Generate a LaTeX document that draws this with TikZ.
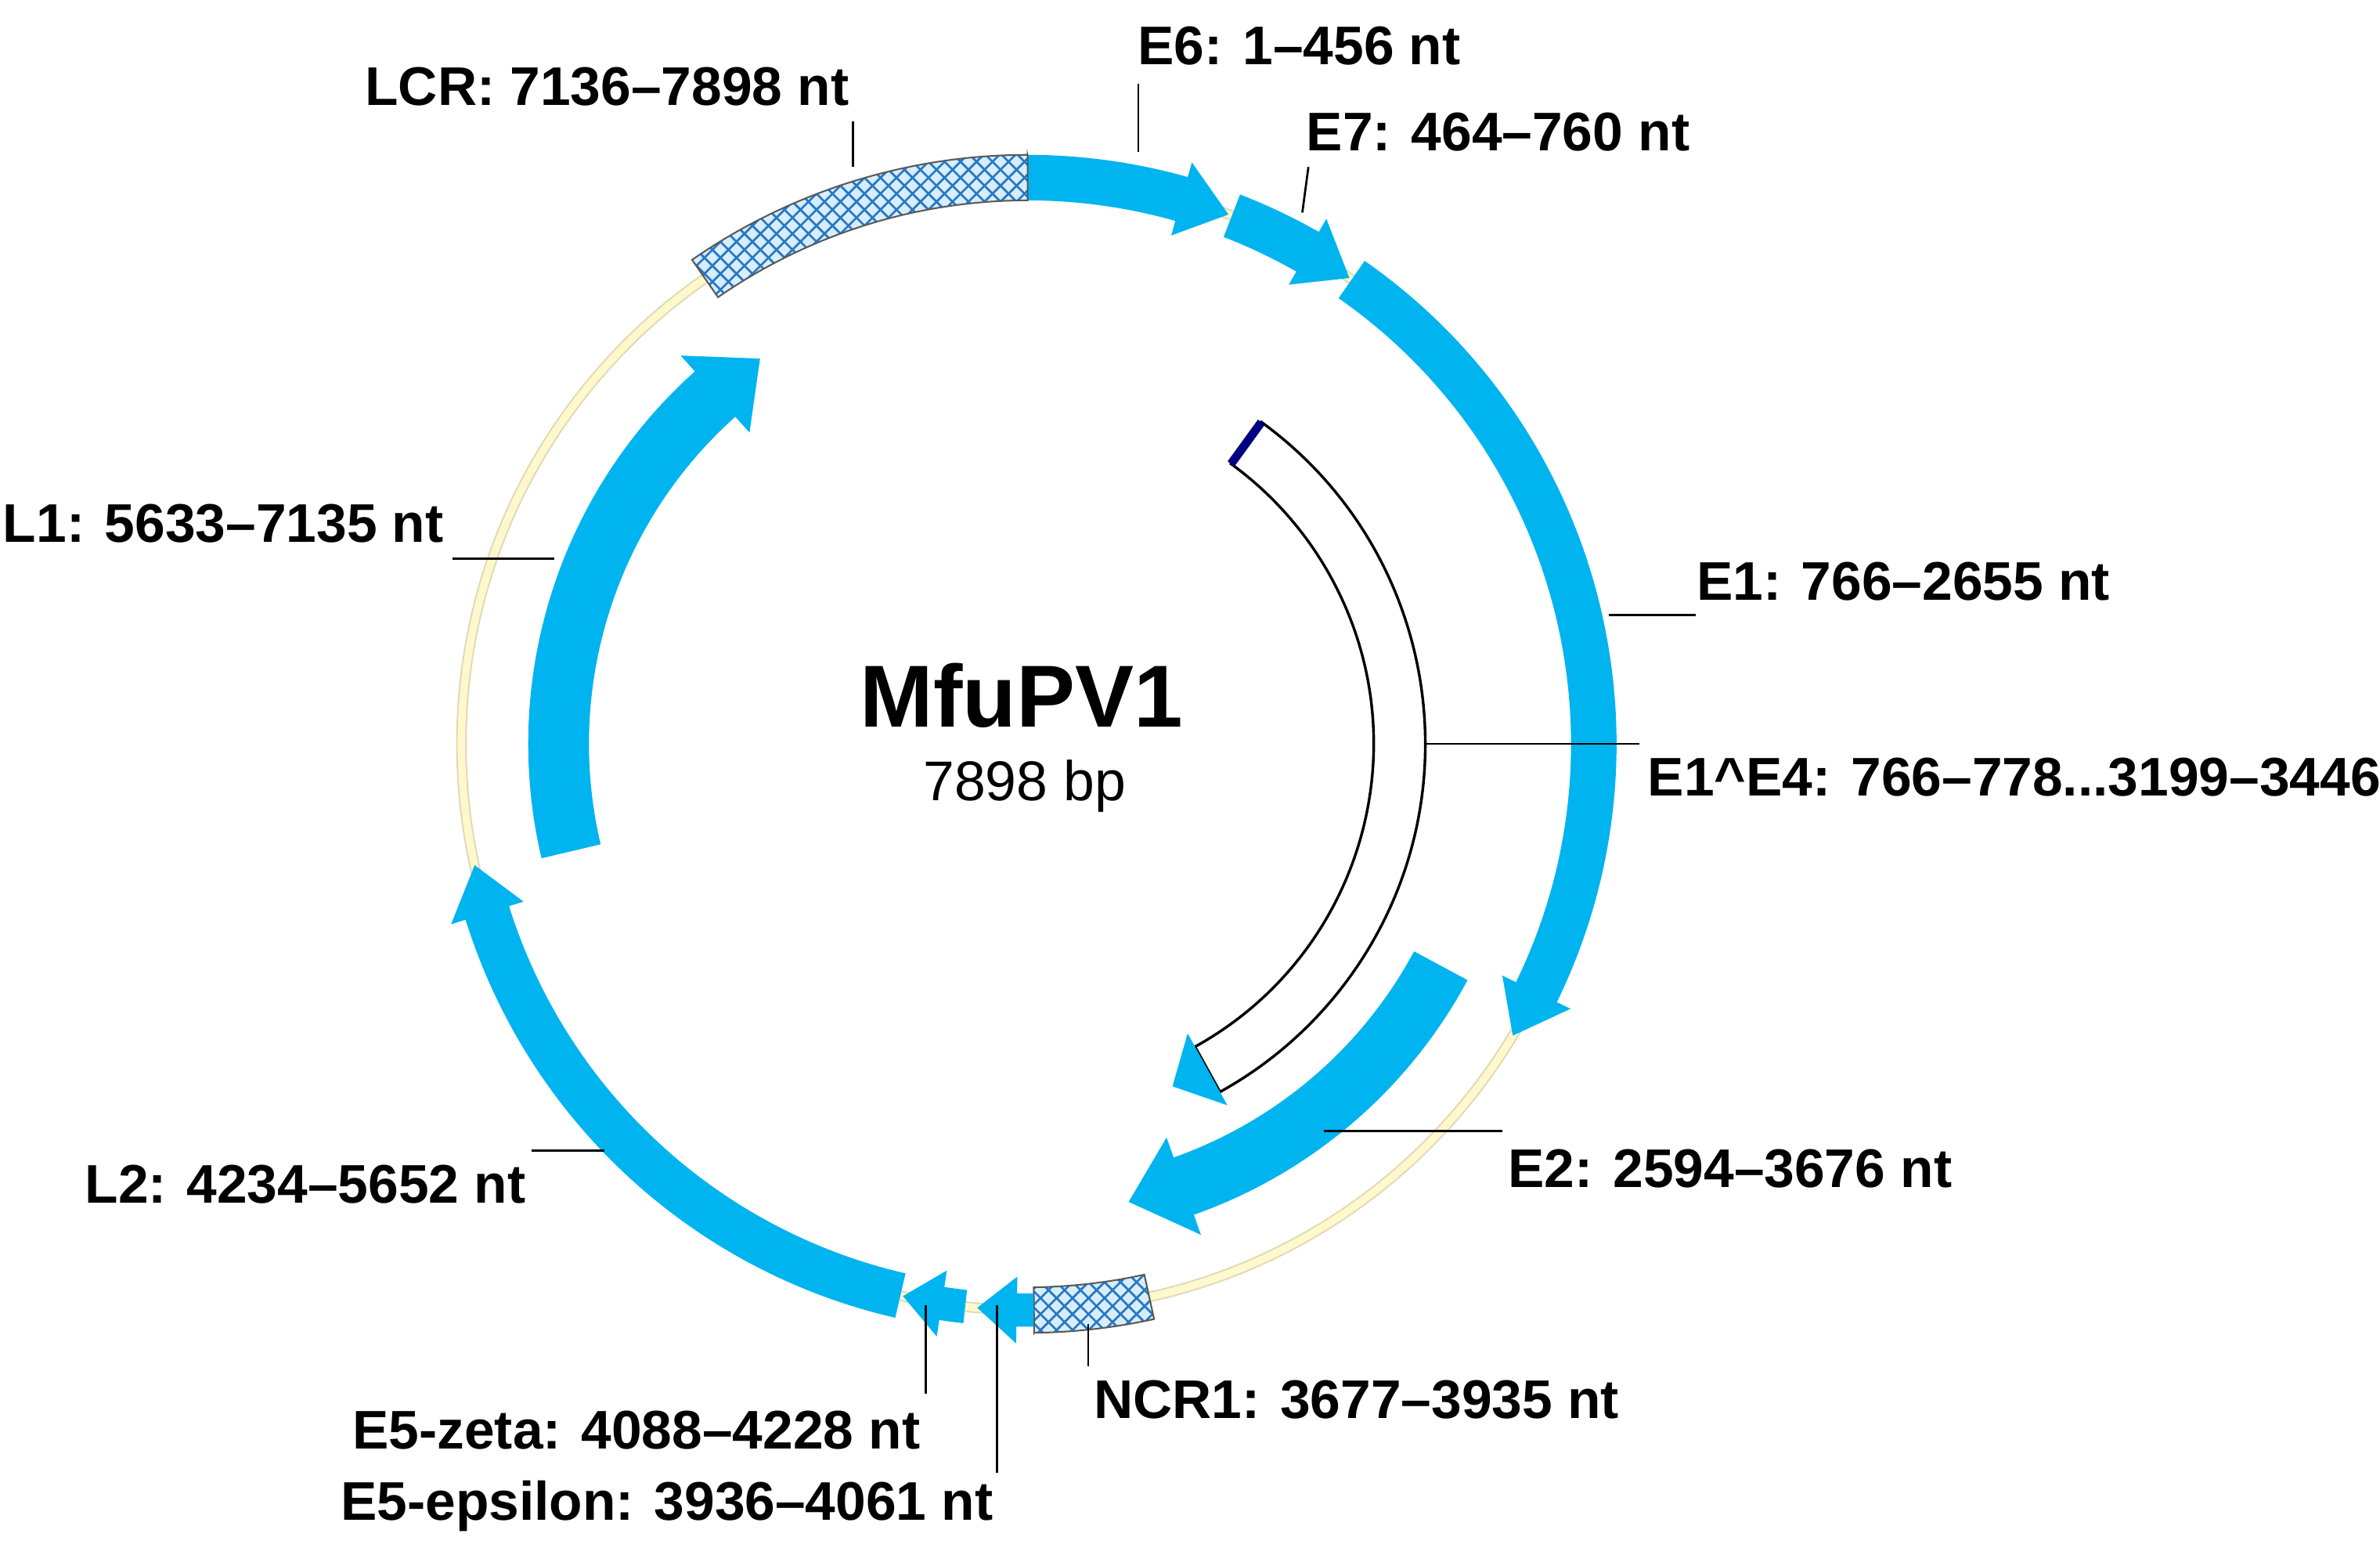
\documentclass[tikz,border=0pt]{standalone}
\usepackage{fontspec}
\setmainfont{Liberation Sans}
\usetikzlibrary{patterns}
\definecolor{gblue}{RGB}{0,180,240}
\definecolor{pale}{RGB}{255,248,205}
\definecolor{hbg}{RGB}{215,238,250}
\definecolor{hline}{RGB}{40,120,200}
\tikzset{
 lab/.style={font=\fontsize{10.2}{12}\selectfont\bfseries, inner sep=0pt},
 lead/.style={line width=0.4pt, black},
 feat/.style={fill=gblue},
 hatch/.style={preaction={fill=hbg}, pattern=crosshatch, pattern color=hline, draw=gray!70!black, line width=0.3pt},
}
\newcommand\garc[7]{%
 \pgfmathsetmacro\gA{90-#4/7898*360}%
 \pgfmathsetmacro\gB{90-#5/7898*360}%
 \pgfmathsetmacro\gM{min(\gA,\gB+#6)}%
 \pgfmathsetmacro\gRo{#1+#2/2}%
 \pgfmathsetmacro\gRi{#1-#2/2}%
 \pgfmathsetmacro\gHo{#1+#3}%
 \pgfmathsetmacro\gHi{#1-#3}%
 \path[#7] (\gA:\gRo) arc[start angle=\gA,end angle=\gM,radius=\gRo] -- (\gM:\gHo) -- (\gB:#1) -- (\gM:\gHi) -- (\gM:\gRi) arc[start angle=\gM,end angle=\gA,radius=\gRi] -- cycle;}
\begin{document}
\begin{tikzpicture}
\useasboundingbox[fill=white] (0,0) rectangle (15.68,10.24);
\begin{scope}[shift={(6.77,5.34)}]
 % pale backbone
 \draw[draw=pale!70!black!40!pale, line width=2pt] (0,0) circle[radius=3.73];
 \draw[pale, line width=1.4pt] (0,0) circle[radius=3.73];
 % outer ring
 \garc{3.73}{0.30}{0.25}{1}{456}{5}{feat}
 \garc{3.73}{0.30}{0.25}{464}{760}{5}{feat}
 \garc{3.73}{0.30}{0.25}{766}{2655}{5}{feat}
 \garc{3.73}{0.30}{0.15}{3677}{3935}{0}{hatch}
 \garc{3.73}{0.22}{0.22}{3936}{4061}{4}{feat}
 \garc{3.73}{0.22}{0.22}{4088}{4228}{4}{feat}
 \garc{3.73}{0.30}{0.25}{4234}{5652}{5}{feat}
 \garc{3.73}{0.30}{0.15}{7136}{7898}{0}{hatch}
 % inner ring
 \garc{3.09}{0.40}{0.34}{2594}{3676}{7}{feat}
 \garc{3.09}{0.40}{0.34}{5633}{7135}{7}{feat}
 % E1^E4
 \pgfmathsetmacro\eA{90-790/7898*360}
 \pgfmathsetmacro\eB{90-3446/7898*360}
 \pgfmathsetmacro\eM{\eB+6}
 \draw[fill=white, line width=0.5pt] (\eA:2.62) arc[start angle=\eA,end angle=\eM,radius=2.62] -- (\eM:2.28) arc[start angle=\eM,end angle=\eA,radius=2.28] -- cycle;
 \fill[gblue] (\eM:2.62) -- (\eM:2.72) -- (\eB:2.45) -- (\eM:2.18) -- (\eM:2.28) -- cycle;
 \draw[blue!50!black, line width=1.6pt] (\eA:2.28) -- (\eA:2.62);
\end{scope}
% title
\node[font=\fontsize{16.5}{18}\selectfont\bfseries] (title) at (6.73,5.66) {MfuPV1};
\node[font=\fontsize{10.5}{12}\selectfont] (size) at (6.75,5.06) {7898 bp};
% labels
\node[lab] (lcr) at (4.00,9.67) {LCR: 7136–7898 nt};
\coordinate (lcra) at (5.62,9.44); \coordinate (lcrb) at (5.62,9.14);
\draw[lead] (lcra) -- (lcrb);
\node[lab] (e6) at (8.56,9.94) {E6: 1–456 nt};
\coordinate (e6a) at (7.50,9.69); \coordinate (e6b) at (7.50,9.24);
\draw[lead] (e6a) -- (e6b);
\node[lab] (e7) at (9.87,9.37) {E7: 464–760 nt};
\coordinate (e7a) at (8.62,9.14); \coordinate (e7b) at (8.58,8.84);
\draw[lead] (e7a) -- (e7b);
\node[lab, anchor=west] (e1) at (11.17,6.41) {E1: 766–2655 nt};
\coordinate (e1a) at (10.60,6.19); \coordinate (e1b) at (11.17,6.19);
\draw[lead] (e1a) -- (e1b);
\node[lab, anchor=west] (e14) at (10.85,5.12) {E1\^{}E4: 766–778...3199–3446};
\coordinate (e14a) at (9.40,5.34); \coordinate (e14b) at (10.80,5.34);
\draw[lead] (e14a) -- (e14b);
\node[lab, anchor=west] (e2) at (9.93,2.54) {E2: 2594–3676 nt};
\coordinate (e2a) at (8.72,2.79); \coordinate (e2b) at (9.90,2.79);
\draw[lead] (e2a) -- (e2b);
\node[lab, anchor=west] (ncr) at (7.20,1.02) {NCR1: 3677–3935 nt};
\coordinate (ncra) at (7.17,1.52); \coordinate (ncrb) at (7.17,1.24);
\draw[lead] (ncra) -- (ncrb);
\node[lab, anchor=east] (e5z) at (6.07,0.82) {E5-zeta: 4088–4228 nt};
\coordinate (e5za) at (6.10,1.64); \coordinate (e5zb) at (6.10,1.06);
\draw[lead] (e5za) -- (e5zb);
\node[lab, anchor=east] (e5e) at (6.55,0.32) {E5-epsilon: 3936–4061 nt};
\coordinate (e5ea) at (6.57,1.64); \coordinate (e5eb) at (6.57,0.54);
\draw[lead] (e5ea) -- (e5eb);
\node[lab, anchor=east] (l2) at (3.47,2.44) {L2: 4234–5652 nt};
\coordinate (l2a) at (3.50,2.66); \coordinate (l2b) at (3.98,2.66);
\draw[lead] (l2a) -- (l2b);
\node[lab, anchor=east] (l1) at (2.93,6.79) {L1: 5633–7135 nt};
\coordinate (l1a) at (2.98,6.56); \coordinate (l1b) at (3.65,6.56);
\draw[lead] (l1a) -- (l1b);
\end{tikzpicture}
\end{document}
